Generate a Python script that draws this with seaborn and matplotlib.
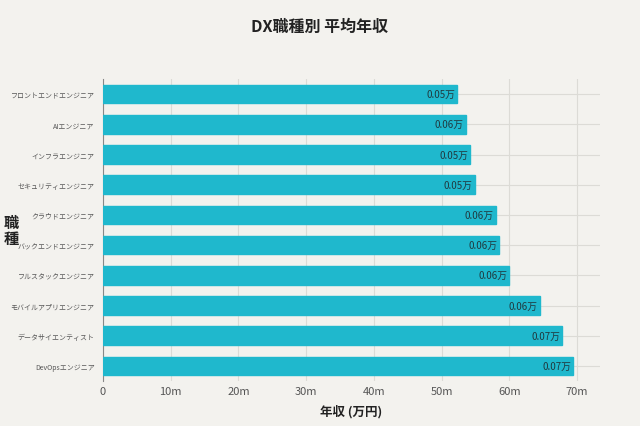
import matplotlib.pyplot as plt
import seaborn as sns
import pandas as pd
from matplotlib.ticker import FuncFormatter

# Data (salary in 万円, axis shown in "m")
jobs = ["フロントエンドエンジニア", "AIエンジニア", "インフラエンジニア", "セキュリティエンジニア",
        "クラウドエンジニア", "バックエンドエンジニア", "フルスタックエンジニア",
        "モバイルアプリエンジニア", "データサイエンティスト", "DevOpsエンジニア"]
salary = [52.3e6, 53.6e6, 54.2e6, 54.9e6, 58.0e6, 58.5e6, 60.0e6, 64.5e6, 67.8e6, 69.4e6]
bar_labels = ["0.05万", "0.06万", "0.05万", "0.05万", "0.06万", "0.06万", "0.06万", "0.06万", "0.07万", "0.07万"]
x_ticks = [0, 10e6, 20e6, 30e6, 40e6, 50e6, 60e6, 70e6]

df = pd.DataFrame({"job": jobs, "salary": salary})

bg = "#F3F2EE"
plt.rcParams["font.family"] = ["Noto Sans CJK JP", "DejaVu Sans"]
fig = plt.figure(figsize=(6.4, 4.27), dpi=100, facecolor=bg)
ax = fig.add_axes([103 / 640, 45 / 427, 497 / 640, 302 / 427], facecolor=bg)

sns.barplot(data=df, y="job", x="salary", color="#1FB8CD", width=0.62,
            edgecolor="#1FB8CD", saturation=1, ax=ax, zorder=3)

for i, (v, lab) in enumerate(zip(salary, bar_labels)):
    ax.text(v - 0.3e6, i, lab, ha="right", va="center", fontsize=7, color="#1f3a40", zorder=4)

ax.set_xlim(0, 73.4e6)
ax.set_xticks(x_ticks)
ax.xaxis.set_major_formatter(FuncFormatter(lambda x, p: f"{x / 1e6:.0f}m" if x else "0"))
ax.grid(True, color="#dcdbd6", linewidth=0.8, zorder=0)
ax.set_axisbelow(True)
for s in ["top", "right", "bottom"]:
    ax.spines[s].set_visible(False)
ax.spines["left"].set_color("#888888")
ax.tick_params(axis="both", length=0, colors="#555555")
ax.tick_params(axis="x", labelsize=8)
ax.tick_params(axis="y", labelsize=5, pad=6)

ax.set_xlabel("年収 (万円)", fontsize=9, color="#222222", fontweight="bold", labelpad=6)
ax.set_ylabel("職\n種", fontsize=11, rotation=0, va="center", ha="center", color="#222222",
              fontweight="bold", linespacing=1.0)
ax.yaxis.set_label_coords(-92 / 497, 0.5)
fig.suptitle("DX職種別 平均年収", x=0.5, y=0.955, fontsize=11.5, fontweight="bold", color="#222222")

fig.savefig("out.png", dpi=100, facecolor=bg)
